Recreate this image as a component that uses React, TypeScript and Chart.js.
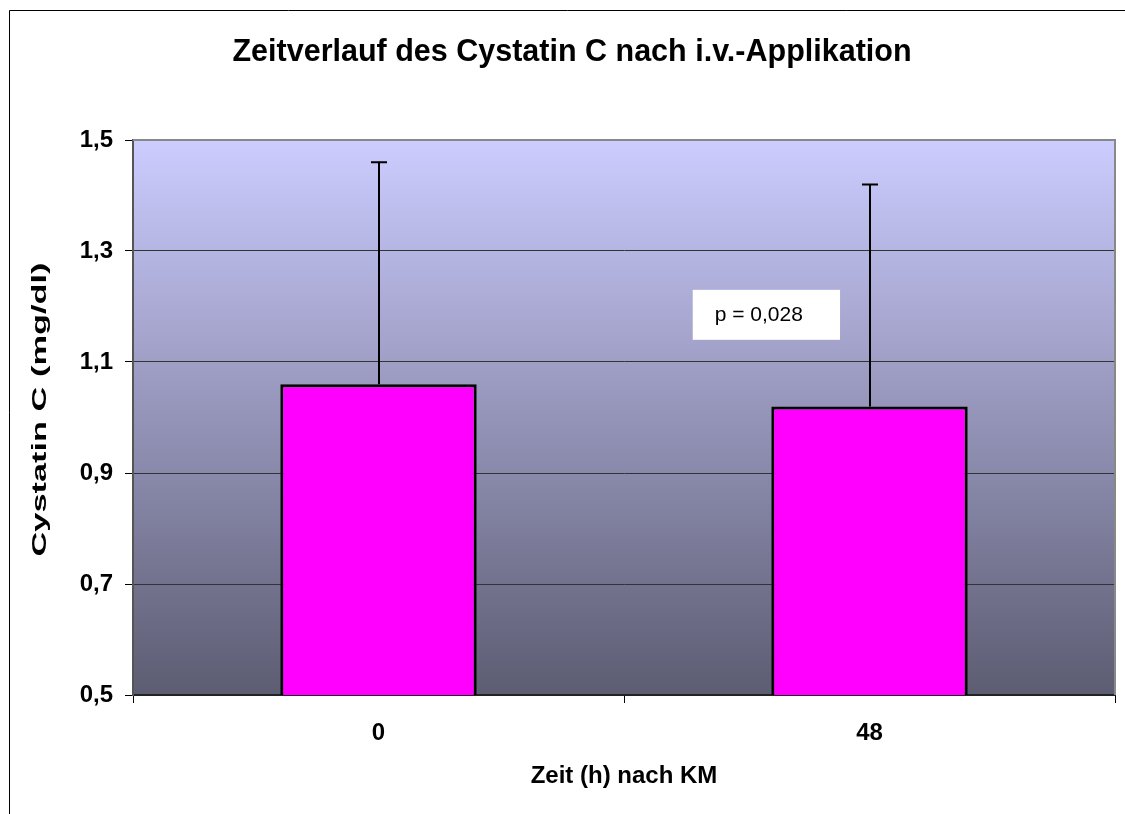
import React, { useEffect, useRef } from "react";
import { Chart, registerables } from "chart.js";

Chart.register(...registerables);

const chartTitle = "Zeitverlauf des Cystatin C nach i.v.-Applikation";
const xAxisTitle = "Zeit (h) nach KM";
const yAxisTitle = "Cystatin C (mg/dl)";
const categories = ["0", "48"];
const meanValues = [1.06, 1.02];
const sdValues = [0.4, 0.4];
const yTickValues = [0.5, 0.7, 0.9, 1.1, 1.3, 1.5];
const pLabel = "p = 0,028";
// annotation anchor in data space: [category index from, to], [value from, to]
const pBoxX = [0.64, 0.94];
const pBoxY = [1.14, 1.23];

const FONT = "'Liberation Sans', Arial, Helvetica, sans-serif";

const decoPlugin = {
  id: "deco",
  beforeDraw(chart: any) {
    const { ctx, chartArea } = chart;
    const { left, top, right, bottom } = chartArea;
    ctx.save();
    ctx.fillStyle = "#ffffff";
    ctx.fillRect(0, 0, chart.width, chart.height);
    const g = ctx.createLinearGradient(0, top, 0, bottom);
    g.addColorStop(0, "#CCCCFF");
    g.addColorStop(1, "#5C5C72");
    ctx.fillStyle = g;
    ctx.fillRect(left, top, right - left, bottom - top);
    // outer frame
    ctx.strokeStyle = "#000000";
    ctx.lineWidth = 1;
    ctx.beginPath();
    ctx.moveTo(9.5, chart.height);
    ctx.lineTo(9.5, 10.5);
    ctx.lineTo(chart.width, 10.5);
    ctx.stroke();
    ctx.restore();
  },
  afterDatasetsDraw(chart: any) {
    const { ctx, chartArea, scales } = chart;
    const { left, top, right } = chartArea;
    const ys = scales.y;
    const xs = scales.x;
    const meta = chart.getDatasetMeta(0);
    ctx.save();
    // error bars
    ctx.strokeStyle = "#000000";
    ctx.lineWidth = 2;
    meta.data.forEach((bar: any, i: number) => {
      const x = Math.round(bar.x);
      const yTop = ys.getPixelForValue(meanValues[i] + sdValues[i]);
      ctx.beginPath();
      ctx.moveTo(x, bar.y);
      ctx.lineTo(x, yTop);
      ctx.moveTo(x - 8, yTop);
      ctx.lineTo(x + 8, yTop);
      ctx.stroke();
    });
    // plot border top/right
    ctx.strokeStyle = "#888888";
    ctx.lineWidth = 2;
    ctx.beginPath();
    ctx.moveTo(left, top);
    ctx.lineTo(right, top);
    ctx.lineTo(right, chartArea.bottom);
    ctx.stroke();
    // p annotation
    const bx0 = xs.getPixelForValue(pBoxX[0]);
    const bx1 = xs.getPixelForValue(pBoxX[1]);
    const by0 = ys.getPixelForValue(pBoxY[1]);
    const by1 = ys.getPixelForValue(pBoxY[0]);
    ctx.fillStyle = "#ffffff";
    ctx.fillRect(bx0, by0, bx1 - bx0, by1 - by0);
    ctx.fillStyle = "#000000";
    ctx.font = `21px ${FONT}`;
    ctx.textAlign = "left";
    ctx.textBaseline = "middle";
    ctx.fillText(pLabel, bx0 + 22, (by0 + by1) / 2);
    ctx.restore();
  },
  afterDraw(chart: any) {
    const { ctx, chartArea } = chart;
    ctx.save();
    ctx.fillStyle = "#000000";
    ctx.font = `bold 30.5px ${FONT}`;
    ctx.textAlign = "center";
    ctx.textBaseline = "middle";
    ctx.fillText(chartTitle, 572, 53);
    ctx.restore();
    // y axis title (stretched along its direction, as in the reference)
    ctx.save();
    ctx.translate(40, (chartArea.top + chartArea.bottom) / 2 - 8);
    ctx.rotate(-Math.PI / 2);
    ctx.font = `bold 20px ${FONT}`;
    const w = ctx.measureText(yAxisTitle).width;
    ctx.scale(294 / w, 1);
    ctx.fillStyle = "#000000";
    ctx.textAlign = "center";
    ctx.textBaseline = "middle";
    ctx.fillText(yAxisTitle, 0, 0);
    ctx.restore();
  },
};

export default function App() {
  const ref = useRef<HTMLCanvasElement>(null);
  useEffect(() => {
    if (!ref.current) return;
    const chart = new Chart(ref.current, {
      type: "bar",
      data: {
        labels: categories,
        datasets: [
          {
            data: meanValues,
            backgroundColor: "#FF00FF",
            borderColor: "#000000",
            borderWidth: 3,
            borderSkipped: false,
            barPercentage: 0.4,
            categoryPercentage: 1,
          },
        ],
      },
      options: {
        responsive: false,
        animation: false,
        devicePixelRatio: 1,
        layout: { padding: { left: 0, right: 10, top: 140, bottom: 0 } },
        plugins: {
          legend: { display: false },
          tooltip: { enabled: false },
          title: { display: false },
        },
        scales: {
          x: {
            grid: {
              offset: true,
              drawOnChartArea: false,
              drawTicks: true,
              tickLength: 8,
              tickColor: "#000000",
              tickWidth: 1,
            },
            border: { display: true, color: "#222222", width: 2 },
            ticks: {
              color: "#000000",
              font: { family: FONT, size: 24, weight: "bold" },
              padding: 16,
            },
            title: {
              display: true,
              text: xAxisTitle,
              color: "#000000",
              font: { family: FONT, size: 24, weight: "bold" },
              padding: { top: 0, bottom: 23 },
            },
            afterFit(scale: any) {
              scale.height = 119;
            },
          },
          y: {
            min: yTickValues[0],
            max: yTickValues[yTickValues.length - 1],
            afterBuildTicks(scale: any) {
              scale.ticks = yTickValues.map((v) => ({ value: v }));
            },
            grid: {
              color: "#333333",
              lineWidth: 1,
              drawTicks: true,
              tickLength: 8,
              tickColor: "#000000",
              tickWidth: 1,
            },
            border: { display: true, color: "#555555", width: 2 },
            ticks: {
              color: "#000000",
              font: { family: FONT, size: 24, weight: "bold" },
              padding: 12,
              callback: (v: any) => Number(v).toFixed(1).replace(".", ","),
            },
            title: { display: false, text: yAxisTitle },
            afterFit(scale: any) {
              scale.width = 133;
            },
          },
        },
      },
      plugins: [decoPlugin],
    } as any);
    return () => chart.destroy();
  }, []);
  return (
    <div style={{ position: "fixed", left: 0, top: 0, width: 1125, height: 814, background: "#fff" }}>
      <canvas ref={ref} width={1125} height={814} style={{ display: "block", width: 1125, height: 814 }} />
    </div>
  );
}
